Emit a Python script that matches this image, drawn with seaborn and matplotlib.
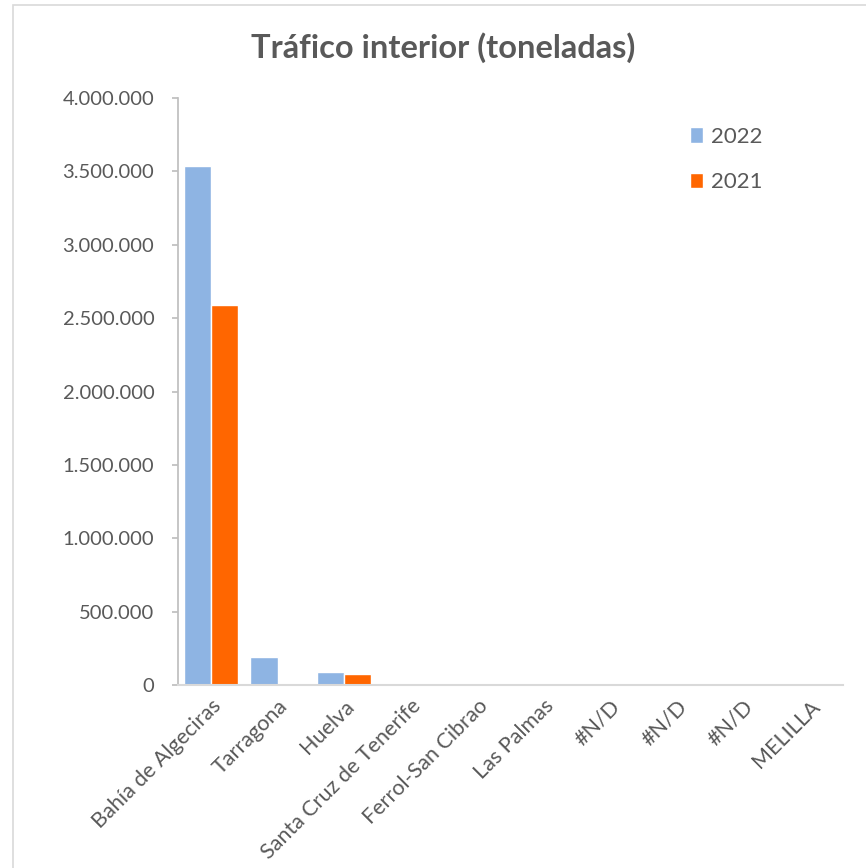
import pandas as pd
import matplotlib
matplotlib.use("Agg")
import matplotlib.pyplot as plt
import seaborn as sns
from matplotlib.ticker import FuncFormatter
from matplotlib.patches import Rectangle

# Data
ports = ["Bahía de Algeciras", "Tarragona", "Huelva", "Santa Cruz de Tenerife",
         "Ferrol-San Cibrao", "Las Palmas", "#N/D", "#N/D ", "#N/D  ", "MELILLA"]
tons_2022 = [3535000, 193000, 88000, 0, 0, 0, 0, 0, 0, 0]
tons_2021 = [2590000, 1500, 73000, 0, 2500, 0, 0, 0, 0, 0]
years = ["2022", "2021"]
colors = ["#8EB4E3", "#FF6600"]
ytick_vals = list(range(0, 4000001, 500000))

df = pd.DataFrame({
    "port": ports * 2,
    "year": ["2022"] * len(ports) + ["2021"] * len(ports),
    "tons": tons_2022 + tons_2021,
})

sns.set_theme(style="white")
plt.rcParams["font.family"] = ["Lato", "DejaVu Sans"]
grey = "#595959"

fig = plt.figure(figsize=(8.66, 8.68), dpi=100)
ax = fig.add_axes([0.2055, 0.2108, 0.7679, 0.6763])

sns.barplot(data=df, x="port", y="tons", hue="year", hue_order=years,
            palette=colors, order=ports, width=0.82, saturation=1,
            ax=ax, legend=True)

ax.set_ylim(0, 4000000)
ax.set_yticks(ytick_vals)
ax.yaxis.set_major_formatter(FuncFormatter(lambda v, p: f"{int(v):,}".replace(",", ".")))
ax.set_xlabel("")
ax.set_ylabel("")
ax.set_xticks(range(len(ports)))
ax.set_xticklabels([p.strip() for p in ports], rotation=45, ha="right",
                   rotation_mode="anchor", fontsize=15.5, color=grey)
ax.tick_params(axis="y", labelsize=14.5, labelcolor=grey, length=4, color="#BFBFBF",
               left=True, pad=13)
ax.tick_params(axis="x", length=0, pad=8)

for s in ["top", "right"]:
    ax.spines[s].set_visible(False)
ax.spines["left"].set_color("#BFBFBF")
ax.spines["bottom"].set_color("#D9D9D9")
ax.spines["bottom"].set_linewidth(1.5)

leg = ax.legend(loc="upper left", bbox_to_anchor=(0.74, 0.985), frameon=False,
                fontsize=16, handlelength=0.6, handleheight=0.7,
                handletextpad=0.35, labelspacing=1.15)
for t in leg.get_texts():
    t.set_color(grey)

fig.suptitle("Tráfico interior (toneladas)", x=0.512, y=0.963, fontsize=23.5,
             fontweight="bold", color=grey)

fig.patches.append(Rectangle((13 / 866, -0.01), 1.0, 1 - 5 / 868 + 0.01,
                             transform=fig.transFigure, fill=False,
                             edgecolor="#D9D9D9", linewidth=1.2))

fig.savefig("out.png", dpi=100)
